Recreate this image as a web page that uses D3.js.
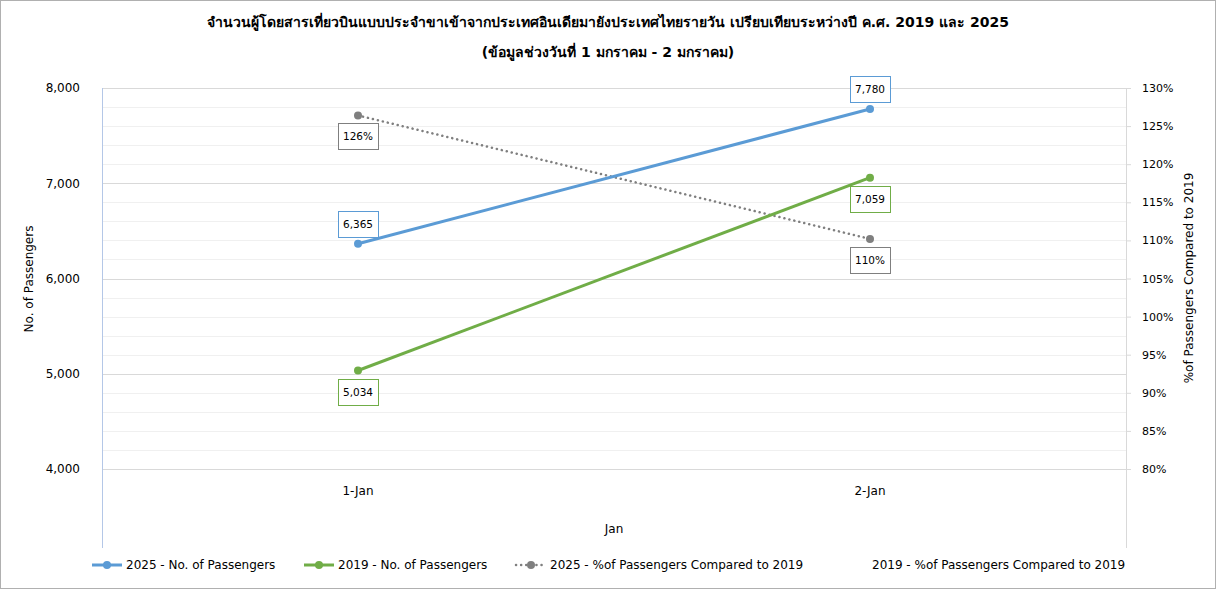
<!DOCTYPE html>
<html lang="th">
<head>
<meta charset="UTF-8">
<title>India to Thailand passengers</title>
<script src="https://cdn.jsdelivr.net/npm/d3@7"></script>
<style>
  body { margin: 0; background: #fff; }
  svg text { font-family: "DejaVu Sans", "Noto Sans", sans-serif; fill: #000; }
</style>
</head>
<body>
<svg id="chart" width="1216" height="589"></svg>
<script>
// data
var days = ["1-Jan", "2-Jan"];
var pax2025 = [6365, 7780];
var pax2019 = [5034, 7059];
var pct2025 = [126.4, 110.2];
var leftTicks = [4000, 5000, 6000, 7000, 8000];
var rightTicks = [80, 85, 90, 95, 100, 105, 110, 115, 120, 125, 130];

var blue = "#5b9bd5", green = "#70ad47", grey = "#7f7f7f";
var svg = d3.select("#chart");
var pl = 102, pr = 1126, pt = 88, pb = 469;

svg.append("rect").attr("x", 0.5).attr("y", 0.5).attr("width", 1215).attr("height", 588)
  .attr("fill", "#fff").attr("stroke", "#b0b0b0");

var x = d3.scaleBand().domain(days).range([pl, pr]);
var y = d3.scaleLinear().domain([4000, 8000]).range([pb, pt]);
var y2 = d3.scaleLinear().domain([80, 130]).range([pb, pt]);

// gridlines (major every 1000, minor every 200)
svg.append("g").selectAll("line").data(d3.range(4000, 8001, 200)).enter().append("line")
  .attr("x1", pl).attr("x2", pr)
  .attr("y1", function (d) { return Math.round(y(d)) + 0.5; })
  .attr("y2", function (d) { return Math.round(y(d)) + 0.5; })
  .attr("stroke", function (d) { return d % 1000 === 0 ? "#d9d9d9" : "#f0f0f0"; });

// vertical frame lines
svg.append("line").attr("x1", pl + 0.5).attr("x2", pl + 0.5).attr("y1", pt).attr("y2", 548)
  .attr("stroke", "#b4c7e7");
svg.append("line").attr("x1", pr + 0.5).attr("x2", pr + 0.5).attr("y1", pt).attr("y2", 548)
  .attr("stroke", "#d9d9d9");

// left axis
var gl = svg.append("g").attr("transform", "translate(" + pl + ",0)")
  .call(d3.axisLeft(y).tickValues(leftTicks).tickSize(0).tickPadding(22).tickFormat(d3.format(",")));
gl.select(".domain").remove();
gl.selectAll("text").attr("font-size", 12).style("font-family", "'DejaVu Sans', sans-serif");

// right axis
var gr = svg.append("g").attr("transform", "translate(" + pr + ",0)")
  .call(d3.axisRight(y2).tickValues(rightTicks).tickSize(5).tickPadding(11)
    .tickFormat(function (d) { return d + "%"; }));
gr.select(".domain").remove();
gr.selectAll("line").attr("stroke", "#d9d9d9");
gr.selectAll("text").attr("font-size", 11).style("font-family", "'DejaVu Sans', sans-serif");

// x axis labels
var gx = svg.append("g").attr("transform", "translate(0," + pb + ")")
  .call(d3.axisBottom(x).tickSize(0).tickPadding(17));
gx.select(".domain").remove();
gx.selectAll("text").attr("font-size", 12).style("font-family", "'DejaVu Sans', sans-serif");

svg.append("text").attr("x", 614).attr("y", 533).attr("text-anchor", "middle")
  .attr("font-size", 12).text("Jan");

// axis titles
svg.append("text").attr("transform", "translate(33,279) rotate(-90)").attr("text-anchor", "middle")
  .attr("font-size", 12).text("No. of Passengers");
svg.append("text").attr("transform", "translate(1193,278) rotate(-90)").attr("text-anchor", "middle")
  .attr("font-size", 12).text("%of Passengers Compared to 2019");

// titles
svg.append("text").attr("x", 608).attr("y", 27).attr("text-anchor", "middle")
  .attr("font-size", 14).attr("font-weight", "bold")
  .text("จำนวนผู้โดยสารเที่ยวบินแบบประจำขาเข้าจากประเทศอินเดียมายังประเทศไทยรายวัน เปรียบเทียบระหว่างปี ค.ศ. 2019 และ 2025");
svg.append("text").attr("x", 608).attr("y", 57).attr("text-anchor", "middle")
  .attr("font-size", 14).attr("font-weight", "bold")
  .text("(ข้อมูลช่วงวันที่ 1 มกราคม - 2 มกราคม)");

function cx(i) { return x(days[i]) + x.bandwidth() / 2; }

function series(vals, scale, color, dash, width) {
  var line = d3.line().x(function (d, i) { return cx(i); }).y(function (d) { return scale(d); });
  svg.append("path").datum(vals).attr("d", line).attr("fill", "none")
    .attr("stroke", color).attr("stroke-width", width)
    .attr("stroke-dasharray", dash).attr("stroke-linecap", dash ? "round" : "butt");
  svg.append("g").selectAll("circle").data(vals).enter().append("circle")
    .attr("cx", function (d, i) { return cx(i); }).attr("cy", function (d) { return scale(d); })
    .attr("r", 4).attr("fill", color);
}

series(pct2025, y2, grey, "0.1,5", 2.5);
series(pax2025, y, blue, null, 3);
series(pax2019, y, green, null, 3);

function label(xc, yc, txt, color) {
  var w = 40, h = 26;
  svg.append("rect").attr("x", Math.round(xc - w / 2) + 0.5).attr("y", Math.round(yc - h / 2) + 0.5)
    .attr("width", w).attr("height", h).attr("fill", "#fff").attr("stroke", color);
  svg.append("text").attr("x", xc).attr("y", yc + 4).attr("text-anchor", "middle")
    .attr("font-size", 10.5).text(txt);
}
var fmt = d3.format(",");
// blue labels sit above, green and grey below
label(cx(0), y(pax2025[0]) - 20, fmt(pax2025[0]), blue);
label(cx(1), y(pax2025[1]) - 20, fmt(pax2025[1]), blue);
label(cx(0), y(pax2019[0]) + 21, fmt(pax2019[0]), green);
label(cx(1), y(pax2019[1]) + 21, fmt(pax2019[1]), green);
label(cx(0), y2(pct2025[0]) + 21, Math.round(pct2025[0]) + "%", grey);
label(cx(1), y2(pct2025[1]) + 21, Math.round(pct2025[1]) + "%", grey);

// legend
var legend = [
  { name: "2025 - No. of Passengers", color: blue, x: 92, dash: null, marker: true },
  { name: "2019 - No. of Passengers", color: green, x: 304, dash: null, marker: true },
  { name: "2025 - %of Passengers Compared to 2019", color: grey, x: 516, dash: "0.1,5", marker: true },
  { name: "2019 - %of Passengers Compared to 2019", color: "none", x: 838, dash: null, marker: false }
];
var lg = svg.append("g").selectAll("g").data(legend).enter().append("g")
  .attr("transform", function (d) { return "translate(" + d.x + ",565)"; });
lg.filter(function (d) { return d.marker; }).append("line")
  .attr("x1", 0).attr("x2", 30).attr("y1", 0).attr("y2", 0)
  .attr("stroke", function (d) { return d.color; }).attr("stroke-width", function (d) { return d.dash ? 2.5 : 3; })
  .attr("stroke-dasharray", function (d) { return d.dash; })
  .attr("stroke-linecap", function (d) { return d.dash ? "round" : "butt"; });
lg.filter(function (d) { return d.marker; }).append("circle")
  .attr("cx", 15).attr("cy", 0).attr("r", 4).attr("fill", function (d) { return d.color; });
lg.append("text").attr("x", 34).attr("y", 4).attr("font-size", 12).text(function (d) { return d.name; });
</script>
</body>
</html>
